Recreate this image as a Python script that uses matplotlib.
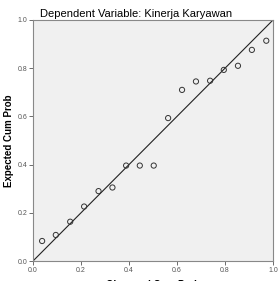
import numpy as np
import matplotlib
matplotlib.use('Agg')
import matplotlib.pyplot as plt

plt.rcParams['font.family'] = ['Liberation Sans', 'DejaVu Sans']

# Normal P-P plot of regression standardized residual
observed = [0.038, 0.095, 0.155, 0.213, 0.273, 0.331, 0.388, 0.445, 0.503,
            0.563, 0.621, 0.679, 0.738, 0.795, 0.854, 0.912, 0.972]
expected = [0.083, 0.108, 0.163, 0.226, 0.290, 0.305, 0.396, 0.396, 0.396,
            0.593, 0.710, 0.745, 0.748, 0.793, 0.810, 0.876, 0.914]
ticks = [0.0, 0.2, 0.4, 0.6, 0.8, 1.0]

fig = plt.figure(figsize=(2.78, 2.81), dpi=100)
ax = fig.add_axes([33/278, 1 - 261/281, 240/278, 241/281])
ax.set_facecolor('#f0f0f0')

ax.plot([0, 1], [0, 1], color='#222222', lw=0.8)
ax.scatter(observed, expected, s=14, facecolors='none', edgecolors='#333333',
           linewidths=0.7, zorder=3)

ax.set_xlim(0, 1)
ax.set_ylim(0, 1)
ax.set_xticks(ticks)
ax.set_yticks(ticks)
ax.set_xticklabels([f'{t:.1f}' for t in ticks])
ax.set_yticklabels([f'{t:.1f}' for t in ticks])
ax.tick_params(labelsize=5, colors='#555555', length=3, width=0.6, pad=1)
for s in ax.spines.values():
    s.set_color('#888888')
    s.set_linewidth(0.8)

ax.set_title('Dependent Variable: Kinerja Karyawan', fontsize=8, x=0.43, pad=2)
ax.set_ylabel('Expected Cum Prob', fontsize=7, fontweight='bold')
ax.yaxis.set_label_coords(-0.078, 0.5)
ax.set_xlabel('Observed Cum Prob', fontsize=7, fontweight='bold')
ax.xaxis.set_label_coords(0.5, -0.08)

fig.savefig('out.png', dpi=100)
